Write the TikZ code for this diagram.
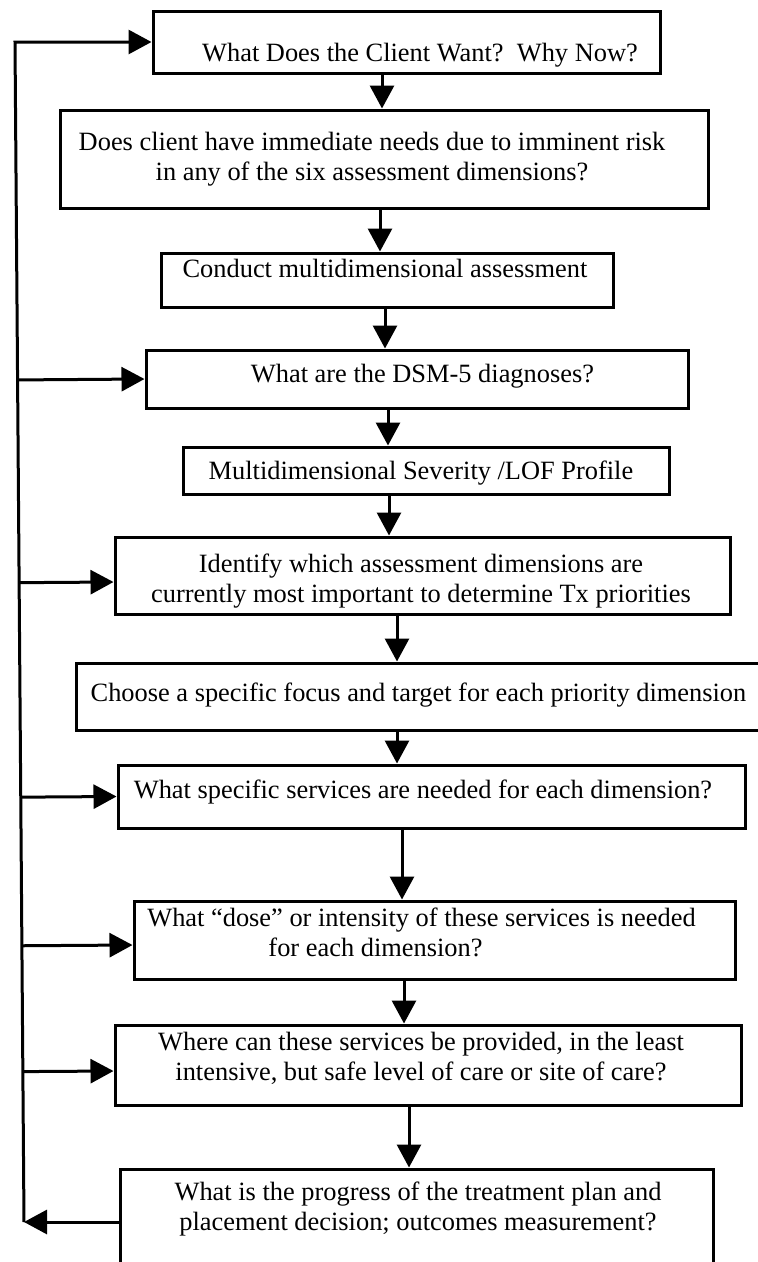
\documentclass[tikz,border=0pt]{standalone}
\usepackage{fontspec}
\setmainfont{Liberation Serif}
\usetikzlibrary{calc,arrows.meta}
\frenchspacing
\newcommand{\inbox}[3]{\raisebox{#2}[\height][\depth]{\kern#1\begin{tabular}{@{}c@{}}#3\end{tabular}\kern-#1}}

\begin{document}
\begin{tikzpicture}[x=1pt,y=-1pt]
  \tikzset{box/.style 2 args={draw, line width=3pt, inner sep=0pt, minimum width=#1pt, minimum height=#2pt, font=\fontsize{26.4}{30}\selectfont},
           flow/.style={line width=3pt, -{Triangle[length=23pt,width=24pt]}}}
  \useasboundingbox (0,0) rectangle (758,1262);
  \clip (0,0) rectangle (758,1262);
  \node[box={507}{62}] (client) at (406.5,42) {\inbox{13.5pt}{-13pt}{What Does the Client Want?~~Why Now?}};
  \node[box={648}{98}] (risk) at (384,159) {\inbox{-12pt}{0pt}{Does client have immediate needs due to imminent risk\\in any of the six assessment dimensions?}};
  \node[box={452}{54}] (assess) at (387,280) {\inbox{-2pt}{9pt}{Conduct multidimensional assessment}};
  \node[box={542}{58}] (dsm) at (417,379) {\inbox{5.5pt}{3pt}{What are the DSM-5 diagnoses?}};
  \node[box={486}{47}] (profile) at (426,470.5) {\inbox{-5pt}{-2.5pt}{Multidimensional Severity /LOF Profile}};
  \node[box={615}{77}] (priority) at (422.5,575.5) {\inbox{-1.5pt}{-5.5pt}{Identify which assessment dimensions are\\currently most important to determine Tx priorities}};
  \node[box={694}{67}] (focus) at (423,696.5) {\inbox{-4.5pt}{1.5pt}{Choose a specific focus and target for each priority dimension}};
  \node[box={627}{63}] (services) at (431.5,796.5) {\inbox{-8.5pt}{4.5pt}{What specific services are needed for each dimension?}};
  \node[box={601}{78}] (dose) at (434.5,940) {\inbox{-13pt}{4.5pt}{What ``dose'' or intensity of these services is needed\\for each dimension?\hspace*{92pt}}};
  \node[box={626}{80}] (where) at (428,1065) {\inbox{-7pt}{5.5pt}{Where can these services be provided, in the least\\intensive, but safe level of care or site of care?}};
  \node[box={593}{96}] (progress) at (416.5,1217) {\inbox{1.5pt}{8pt}{What is the progress of the treatment plan and\\placement decision; outcomes measurement?}};
  % down the chain
  \draw[flow] (382,0 |- client.south) -- (382,0 |- risk.north);
  \draw[flow] (380,0 |- risk.south) -- (380,0 |- assess.north);
  \draw[flow] (385,0 |- assess.south) -- (385,0 |- dsm.north);
  \draw[flow] (388,0 |- dsm.south) -- (388,0 |- profile.north);
  \draw[flow] (389,0 |- profile.south) -- (389,0 |- priority.north);
  \draw[flow] (397,0 |- priority.south) -- (397,0 |- focus.north);
  \draw[flow] (397,0 |- focus.south) -- (397,0 |- services.north);
  \draw[flow] (402,0 |- services.south) -- (402,0 |- dose.north);
  \draw[flow] (404,0 |- dose.south) -- (404,0 |- where.north);
  \draw[flow] (409,0 |- where.south) -- (409,0 |- progress.north);
  % feedback rail
  \coordinate (railtop) at (15,42);
  \coordinate (railbot) at (24,1222);
  \draw[flow] (railbot) -- (railtop) -- (client.west);
  \draw[flow] ($(railtop)!(dsm.west)!(railbot)$) -- (dsm.west);
  \draw[flow] ($(railtop)!([yshift=-6.5pt]priority.west)!(railbot)$) -- ([yshift=-6.5pt]priority.west);
  \draw[flow] ($(railtop)!(services.west)!(railbot)$) -- (services.west);
  \draw[flow] ($(railtop)!([yshift=-5pt]dose.west)!(railbot)$) -- ([yshift=-5pt]dose.west);
  \draw[flow] ($(railtop)!([yshift=-6pt]where.west)!(railbot)$) -- ([yshift=-6pt]where.west);
  \draw[flow] ([yshift=-5pt]progress.west) -- (railbot);
\end{tikzpicture}
\end{document}
